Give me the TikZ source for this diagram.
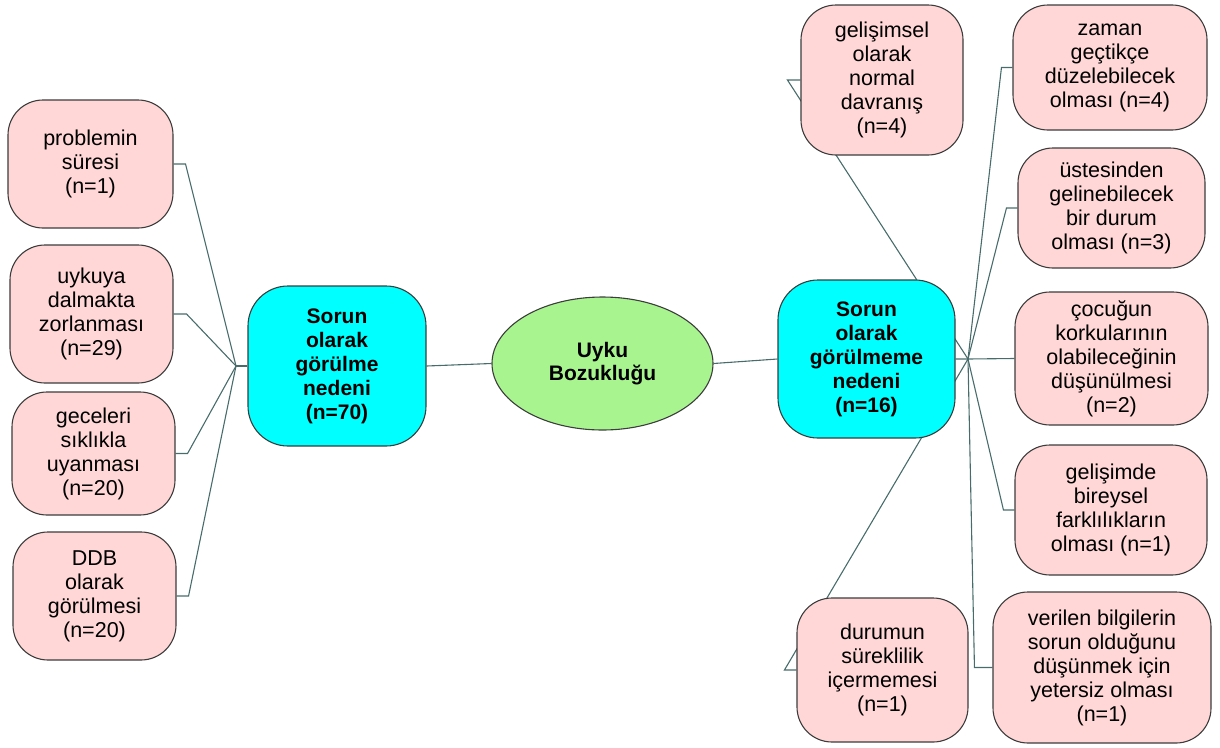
\documentclass[tikz,border=0pt]{standalone}
\usepackage{fontspec}
\setmainfont{Liberation Sans}
\usetikzlibrary{shapes.geometric,backgrounds}
\definecolor{pinkfill}{RGB}{255,215,215}
\definecolor{cyanfill}{RGB}{0,255,255}
\definecolor{greenfill}{RGB}{168,245,143}
\definecolor{linkcol}{RGB}{72,108,108}
\definecolor{edgegray}{RGB}{60,60,60}
\begin{document}
\begin{tikzpicture}[x=1pt,y=-1pt,
  leaf/.style={draw=edgegray, line width=1.1pt, fill=pinkfill, rounded corners=35pt,
    align=center, inner sep=0pt, font=\fontsize{21.5}{24}\selectfont},
  hub/.style={draw=edgegray, line width=1.1pt, fill=cyanfill, rounded corners=40pt,
    align=center, inner sep=0pt, font=\fontsize{21}{24}\selectfont\bfseries},
  root/.style={ellipse, draw=edgegray, line width=1.1pt, fill=greenfill,
    align=center, inner sep=0pt, font=\fontsize{21}{23}\selectfont\bfseries,
    minimum width=221pt, minimum height=133pt},
  link/.style={draw=linkcol, line width=1.1pt, line join=miter}]
\useasboundingbox (0,0) rectangle (1220,747);

% central topic
\node[root] (E) at (602.5,363.5) {Uyku\\Bozukluğu};

% the two branches
\node[hub, minimum width=178pt, minimum height=160pt] (CL) at (337,366)
  {Sorun\\olarak\\görülme\\nedeni\\(n=70)};
\node[hub, minimum width=177pt, minimum height=158pt] (CR) at (866.5,359)
  {Sorun\\olarak\\görülmeme\\nedeni\\(n=16)};

% reasons it is seen as a problem
\node[leaf, minimum width=165pt, minimum height=128pt] (L1) at (90.5,164)
  {problemin\\süresi\\(n=1)};
\node[leaf, minimum width=163pt, minimum height=138pt] (L2) at (91.5,314)
  {uykuya\\dalmakta\\zorlanması\\(n=29)};
\node[leaf, minimum width=163pt, minimum height=123pt] (L3) at (93.5,453.5)
  {geceleri\\sıklıkla\\uyanması\\(n=20)};
\node[leaf, minimum width=163pt, minimum height=128pt] (L4) at (94.5,596)
  {DDB\\olarak\\görülmesi\\(n=20)};

% reasons it is not seen as a problem
\node[leaf, minimum width=162pt, minimum height=150pt] (R6) at (882,80)
  {gelişimsel\\olarak\\normal\\davranış\\(n=4)};
\node[leaf, minimum width=194pt, minimum height=125pt] (R1) at (1110,67.5)
  {zaman\\geçtikçe\\düzelebilecek\\olması (n=4)};
\node[leaf, minimum width=187pt, minimum height=120pt] (R2) at (1111.5,208)
  {üstesinden\\gelinebilecek\\bir durum\\olması (n=3)};
\node[leaf, minimum width=193pt, minimum height=133pt] (R3) at (1111.5,358.5)
  {çocuğun\\korkularının\\olabileceğinin\\düşünülmesi\\(n=2)};
\node[leaf, minimum width=192pt, minimum height=130pt] (R4) at (1111,510)
  {gelişimde\\bireysel\\farklılıkların\\olması (n=1)};
\node[leaf, minimum width=218pt, minimum height=151pt] (R5) at (1102,667.5)
  {verilen bilgilerin\\sorun olduğunu\\düşünmek için\\yetersiz olması\\(n=1)};
\node[leaf, minimum width=171pt, minimum height=144pt] (R7) at (882.5,670)
  {durumun\\süreklilik\\içermemesi\\(n=1)};

% branching points
\coordinate (JL) at (236,366);
\coordinate (JR) at (968,359);

\begin{pgfonlayer}{background}
  \draw[link] (CL.east) -- (E.west);
  \draw[link] (E.east) -- (CR.west);
  \draw[link] (CL.west) -- (JL);
  \draw[link] (L1.east) -- ++(12,0) -- (JL);
  \draw[link] (L2.east) -- ++(13,0) -- (JL);
  \draw[link] (L3.east) -- ++(12,0) -- (JL);
  \draw[link] (L4.east) -- ++(12,0) -- (JL);
  \draw[link] (CR.east) -- (JR) -- (R3.west);
  \draw[link] (R1.west) -- ++(-11,0) -- (JR);
  \draw[link] (R2.west) -- ++(-11,0) -- (JR);
  \draw[link] (R4.west) -- ++(-11,0) -- (JR);
  \draw[link] (R5.west) -- ++(-18,0) -- (JR);
  \draw[link] (R6.west) -- ++(-13,0) -- (JR);
  \draw[link] (R7.west) -- ++(-12,0) -- (JR);
\end{pgfonlayer}
\end{tikzpicture}
\end{document}
